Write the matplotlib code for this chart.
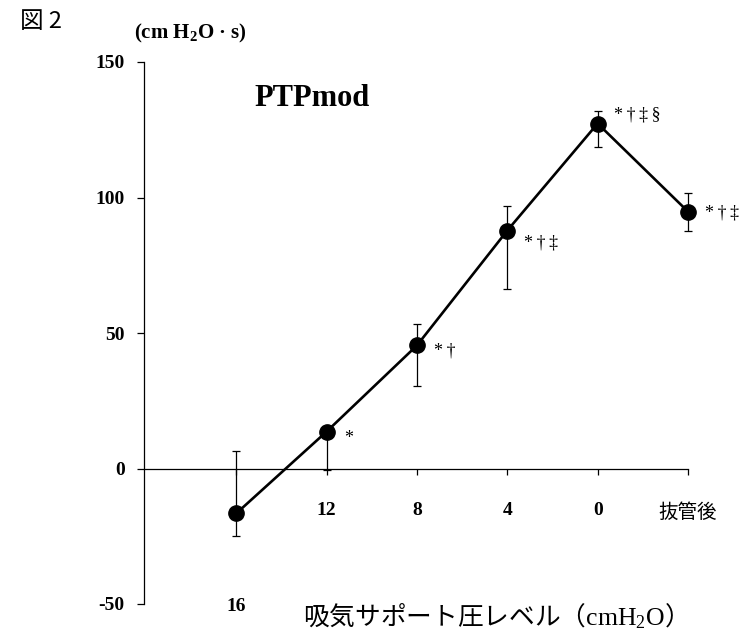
import matplotlib

matplotlib.use("Agg")
import matplotlib.pyplot as plt

plt.rcParams["font.family"] = ["Liberation Serif", "Noto Sans CJK JP"]
plt.rcParams["mathtext.fontset"] = "custom"
plt.rcParams["mathtext.rm"] = "Liberation Serif"
plt.rcParams["mathtext.bf"] = "Liberation Serif:bold"
plt.rcParams["axes.unicode_minus"] = False

# data
levels = ["16", "12", "8", "4", "0", "抜管後"]
means = [-16.6, 13.6, 45.4, 87.8, 127.3, 94.8]
err_low = [8.4, 14.3, 15.1, 21.4, 8.5, 7.0]
err_high = [23.0, 0.0, 7.8, 8.9, 4.8, 6.7]
marks = ["", "*", "*†", "*†‡", "*†‡§", "*†‡"]
mark_offsets = [(0, 0), (13, -5), (12, -4), (12, -9), (12, 6), (12, -1)]

fig = plt.figure(figsize=(7.39, 6.43), dpi=100)
ax = fig.add_axes([144 / 739, 39 / 643, 544 / 739, 542 / 643])

for s in ("top", "right"):
    ax.spines[s].set_visible(False)
ax.spines["bottom"].set_position(("data", 0))
ax.spines["bottom"].set_linewidth(0.9)
ax.spines["left"].set_linewidth(0.9)

x = list(range(len(levels)))
eb = ax.errorbar(x, means, yerr=[err_low, err_high], fmt="none", ecolor="black",
                 elinewidth=0.9, capsize=3, capthick=0.9, zorder=2)
for art in eb.lines[1] + eb.lines[2]:
    art.set_clip_on(False)
ax.plot(x, means, color="black", lw=1.9, marker="o", ms=11, zorder=3, clip_on=False)

for xi, yi, m, off in zip(x, means, marks, mark_offsets):
    if m:
        ax.annotate("\u2009".join(m), (xi, yi), xytext=off, textcoords="offset points",
                    ha="left", va="center", fontsize=13, annotation_clip=False)

ax.set_xlim(-1.02, 5)
ax.set_ylim(-50, 150)
ax.set_yticks([-50, 0, 50, 100, 150])
ax.set_yticklabels(["-50", "0", "50", "100", "150"], fontweight="bold", fontsize=14)
ax.set_xticks(x)
ax.set_xticklabels([""] + levels[1:], fontweight="bold", fontsize=14)
ax.tick_params(axis="y", direction="out", length=5, width=0.9, pad=9)
ax.tick_params(axis="x", direction="out", length=4, width=0.9, pad=20)
last = ax.get_xticklabels()[-1]
last.set_fontweight("normal")
last.set_family("Noto Sans CJK JP")
last.set_fontsize(14)

ax.text(0, -51, "16", ha="center", va="center", fontsize=14, fontweight="bold")
ax.text(0.84, 136.5, "PTPmod", ha="center", va="center", fontsize=22, fontweight="bold")

fig.text(20 / 739, 1 - 22 / 643, "図 2", ha="left", va="center", fontsize=17,
         family="Noto Sans CJK JP")
fig.text(190 / 739, 1 - 33 / 643, r"(cm H$_\mathbf{2}$O · s)", ha="center", va="center",
         fontsize=15, fontweight="bold")
fig.text(488 / 739, 1 - 617 / 643, r"吸気サポート圧レベル（$\mathrm{cmH_2O}$）",
         ha="center", va="center", fontsize=18.5, family=["Noto Sans CJK JP", "Liberation Serif"])

fig.savefig("out.png", dpi=100)
